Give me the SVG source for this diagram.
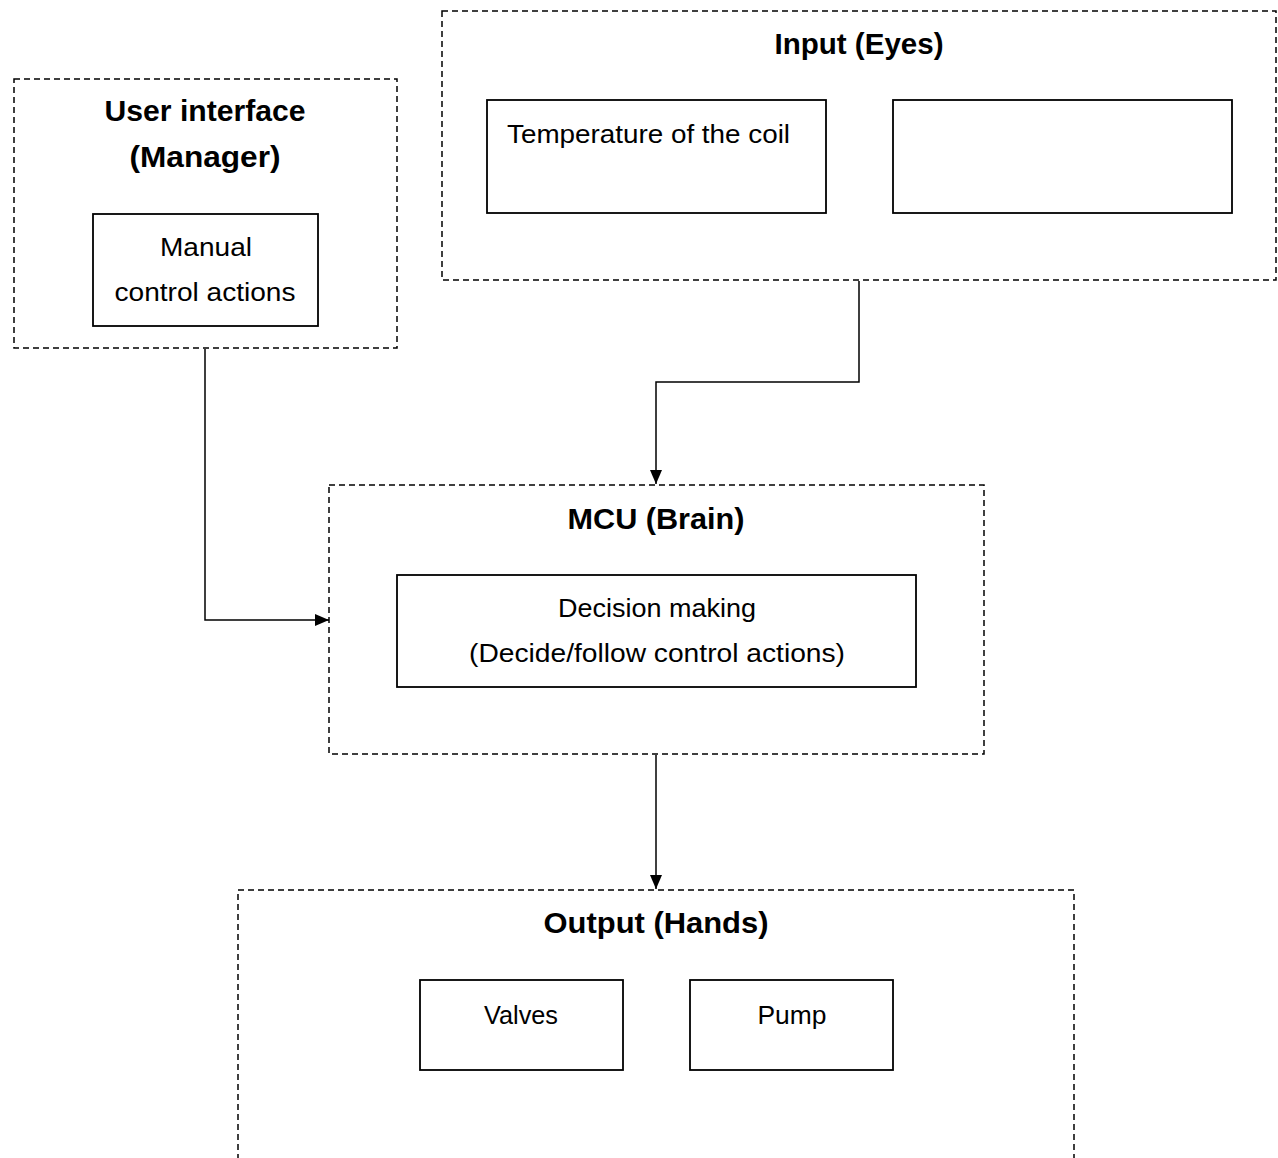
<svg xmlns="http://www.w3.org/2000/svg" width="1278" height="1158" viewBox="0 0 1278 1158">
<defs>
<style>
.grp{fill:none;stroke:#000;stroke-width:1.5;stroke-dasharray:6 4}
.box{fill:#fff;stroke:#000;stroke-width:1.8}
.t{font-family:"Liberation Sans",Arial,sans-serif;font-size:25px;fill:#000}
.h{font-family:"Liberation Sans",Arial,sans-serif;font-size:29px;font-weight:bold;fill:#000}
.c{text-anchor:middle}
.ln{fill:none;stroke:#000;stroke-width:1.5}
</style>
<marker id="arr" markerWidth="14" markerHeight="12" refX="14" refY="6" orient="auto" markerUnits="userSpaceOnUse">
<path d="M0,0 L14,6 L0,12 Z" fill="#000"/>
</marker>
</defs>
<rect width="1278" height="1158" fill="#fff"/>
<g id="connectors">
<path class="ln" d="M859,281 V382 H656 V484" marker-end="url(#arr)"/>
<path class="ln" d="M205,349 V620 H329" marker-end="url(#arr)"/>
<path class="ln" d="M656,755 V889" marker-end="url(#arr)"/>
</g>
<g id="user-interface">
<rect class="grp" x="14" y="79" width="383" height="269"/>
<text class="h c" x="205" y="121" textLength="201" lengthAdjust="spacingAndGlyphs">User interface</text>
<text class="h c" x="205" y="167" textLength="151" lengthAdjust="spacingAndGlyphs">(Manager)</text>
<rect class="box" x="93" y="214" width="225" height="112"/>
<text class="t c" x="206" y="256" textLength="92" lengthAdjust="spacingAndGlyphs">Manual</text>
<text class="t c" x="205" y="301" textLength="181" lengthAdjust="spacingAndGlyphs">control actions</text>
</g>
<g id="input">
<rect class="grp" x="442" y="11" width="834" height="269"/>
<text class="h c" x="859" y="54" textLength="169" lengthAdjust="spacingAndGlyphs">Input (Eyes)</text>
<rect class="box" x="487" y="100" width="339" height="113"/>
<text class="t" x="507" y="143" textLength="283" lengthAdjust="spacingAndGlyphs">Temperature of the coil</text>
<rect class="box" x="893" y="100" width="339" height="113"/>
</g>
<g id="mcu">
<rect class="grp" x="329" y="485" width="655" height="269"/>
<text class="h c" x="656" y="529" textLength="177" lengthAdjust="spacingAndGlyphs">MCU (Brain)</text>
<rect class="box" x="397" y="575" width="519" height="112"/>
<text class="t c" x="657" y="617" textLength="198" lengthAdjust="spacingAndGlyphs">Decision making</text>
<text class="t c" x="657" y="662" textLength="376" lengthAdjust="spacingAndGlyphs">(Decide/follow control actions)</text>
</g>
<g id="output">
<path class="grp" d="M238,1160 V890 H1074 V1160"/>
<text class="h c" x="656" y="933" textLength="225" lengthAdjust="spacingAndGlyphs">Output (Hands)</text>
<rect class="box" x="420" y="980" width="203" height="90"/>
<text class="t c" x="521" y="1024" textLength="74" lengthAdjust="spacingAndGlyphs">Valves</text>
<rect class="box" x="690" y="980" width="203" height="90"/>
<text class="t c" x="792" y="1024" textLength="69" lengthAdjust="spacingAndGlyphs">Pump</text>
</g>
</svg>
